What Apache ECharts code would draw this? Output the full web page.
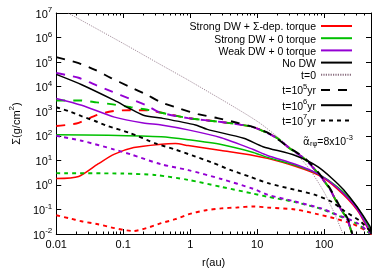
<!DOCTYPE html>
<html><head><meta charset="utf-8">
<script src="https://cdn.jsdelivr.net/npm/echarts@6/dist/echarts.min.js"></script>
<style>html,body{margin:0;padding:0;background:#fff}#c{width:390px;height:273px}</style>
</head><body><div id="c"></div>
<script>
// ---- tick labels ----
const xTicks = [0.01, 0.1, 1, 10, 100];
const xMinorTicks = [0.02,0.03,0.04,0.05,0.06,0.07,0.08,0.09,0.2,0.3,0.4,0.5,0.6,0.7,0.8,0.9,2,3,4,5,6,7,8,9,20,30,40,50,60,70,80,90,200,300,400];
const yTicks = [1e-2, 1e-1, 1, 10, 100, 1e3, 1e4, 1e5, 1e6, 1e7];

// ---- legend entries ----
const modelNames = ['Strong DW + Σ-dep. torque', 'Strong DW + 0 torque', 'Weak DW + 0 torque', 'No DW'];
const timeNames = ['t=0', 't=10^5yr', 't=10^6yr', 't=10^7yr'];

// ---- t = 0 ----
const r_t0 = [0.015, 0.1, 0.37, 1, 10, 30, 50, 65, 100, 150, 190, 215];
const s_t0 = [1.0e7, 5.75e5, 7.6e4, 1.66e4, 389, 35.5, 8.3, 3.3, 0.5, 0.05, 0.01, 0.004];

// ---- t = 1e5 yr (dashed) ----
const r_noDW_5 = [0.01,0.0216,0.038,0.065,0.123,0.222,0.344,0.67,1.31,2.55,4.97,9,15.4,30,49.6,76.6,118,165,223,263];
const s_noDW_5 = [1.6e5,9.1e4,4.8e4,2.3e4,1.0e4,4800,2500,1320,760,525,340,220,120,33,13.2,4.0,0.83,0.16,0.044,0.01];
const r_weak_5 = [0.01,0.0216,0.038,0.068,0.123,0.222,0.344,0.93,2.9,8,12,20,30,50,77,118,165,223,263];
const s_weak_5 = [3.6e4,2.3e4,1.2e4,6300,3300,1740,910,525,363,240,160,79,32,12,3.5,0.76,0.14,0.038,0.009];
const r_strong_5 = [0.01,0.023,0.04,0.07,0.13,0.23,0.344,0.93,2.9,8,12,20,30,50,77,118,165,223,263];
const s_strong_5 = [2750,2750,2300,1900,1450,1150,910,525,363,240,160,79,32,12,3.5,0.76,0.14,0.038,0.009];
const r_sig_5 = [0.01,0.02,0.04,0.068,0.123,0.22,0.344,0.93,2.9,8,12,20,30,50,77,118,165,223,263];
const s_sig_5 = [250,316,690,1000,1100,1100,910,525,363,240,160,79,32,12,3.5,0.76,0.14,0.038,0.009];

// ---- t = 1e6 yr (solid) ----
const r_noDW_6 = [0.01,0.024,0.074,0.123,0.2,0.37,1.2,1.8,6.3,12.2,37,82,195,480,500];
const s_noDW_6 = [3.16e4,1.2e4,2750,1320,690,525,275,182,79,36,15.8,5.25,0.63,0.021,0.01];
const r_weak_6 = [0.01,0.024,0.074,0.2,0.37,0.93,2.9,8.75,14.2,37,82,157,307,480,500];
const s_weak_6 = [3300,1740,575,330,275,174,83,27.5,15.8,6.9,2.75,0.76,0.11,0.013,0.01];
const r_strong_6 = [0.01,0.06,0.37,0.93,2.9,8.75,14.2,37,82,157,307,480,500];
const s_strong_6 = [110,105,91,69,44,21,13.2,6.3,2.75,0.83,0.13,0.016,0.01];
const r_sig_6 = [0.01,0.0216,0.042,0.074,0.144,0.37,0.6,0.93,2.9,8.75,14.2,37,82,157,307,480,500];
const s_sig_6 = [1.8,2.2,7.1,17.8,33,45,48,40,25,15.8,12,5.75,2.5,0.69,0.1,0.012,0.009];

// ---- t = 1e7 yr (dotted) ----
const r_noDW_7 = [0.01,0.0154,0.0238,0.038,0.0587,0.123,0.31,0.6,1.07,2.08,4.05,7.95,14.2,36.7,72,127,195,346,500];
const s_noDW_7 = [1450,1000,630,400,250,132,48,27.5,15.8,8.3,4.0,2.1,1.2,0.63,0.4,0.21,0.091,0.033,0.012];
const r_weak_7 = [0.01,0.0238,0.074,0.13,0.367,0.935,2.91,8.75,14.2,36.7,90.6,140,311,479];
const s_weak_7 = [100,63,27.5,17.4,6.9,4.0,1.74,0.69,0.4,0.21,0.11,0.069,0.028,0.011];
const r_strong_7 = [0.01,0.1,0.31,0.935,2.91,8.75,14.2,36.7,90.6,140,311,479];
const s_strong_7 = [3.0,2.9,2.5,1.6,0.83,0.44,0.33,0.2,0.105,0.066,0.026,0.0105];
const r_sig_7 = [0.01,0.0154,0.0238,0.042,0.074,0.14,0.223,0.367,0.6,0.935,1.65,2.91,4.97,8.75,14.2,36.7,82,140,272,434];
const s_sig_7 = [0.058,0.044,0.033,0.025,0.0174,0.0132,0.0174,0.0275,0.04,0.063,0.091,0.11,0.12,0.132,0.12,0.1,0.063,0.044,0.025,0.0132];

const RED = '#ff0000', GREEN = '#00c000', PURPLE = '#9400d3', BLACK = '#000000', T0 = '#8a6f80';
const DASH = [9, 8], DOT = [4, 4];

function pairs(r, s) { return r.map((v, i) => [v, s[i]]); }
function line(name, r, s, color, type, width, z) {
  return {
    name, type: 'line', data: pairs(r, s), showSymbol: false, symbol: 'none',
    smooth: 0.25, clip: true, z: z || 2, silent: true,
    lineStyle: { color, width: width || 1.6, type: type || 'solid' },
    itemStyle: { color }
  };
}

const series = [
  line('t=0', r_t0, s_t0, T0, [1.2, 1.2], 0.8, 1),
  line('sig5', r_sig_5, s_sig_5, RED, DASH, 1.9),
  line('sig7', r_sig_7, s_sig_7, RED, DOT, 1.9),
  line(modelNames[0], r_sig_6, s_sig_6, RED, 'solid', 1.5),
  line('strong5', r_strong_5, s_strong_5, GREEN, DASH, 1.9),
  line('strong7', r_strong_7, s_strong_7, GREEN, DOT, 1.9),
  line(modelNames[1], r_strong_6, s_strong_6, GREEN, 'solid', 1.5),
  line('weak5', r_weak_5, s_weak_5, PURPLE, DASH, 1.9),
  line('weak7', r_weak_7, s_weak_7, PURPLE, DOT, 1.9),
  line(modelNames[2], r_weak_6, s_weak_6, PURPLE, 'solid', 1.5),
  line('noDW5', r_noDW_5, s_noDW_5, BLACK, DASH, 1.9),
  line('noDW7', r_noDW_7, s_noDW_7, BLACK, DOT, 1.9),
  line(modelNames[3], r_noDW_6, s_noDW_6, BLACK, 'solid', 1.5),
  line(timeNames[1], [], [], BLACK, DASH, 1.9),
  line(timeNames[2], [], [], BLACK, 'solid', 1.5),
  line(timeNames[3], [], [], BLACK, DOT, 1.9)
];

const FONT = 'Liberation Sans, Arial, sans-serif';
const supRich = {
  b: { fontSize: 11, fontFamily: FONT, color: '#000', padding: [3, 0, 0, 0] },
  s: { fontSize: 8, fontFamily: FONT, color: '#000', verticalAlign: 'top', lineHeight: 8 }
};
const legRich = {
  b: { fontSize: 10.5, fontFamily: FONT, color: '#000', padding: [3, 0, 0, 0] },
  s: { fontSize: 7.5, fontFamily: FONT, color: '#000', verticalAlign: 'top', lineHeight: 8 }
};

function baseX(pos, showLabel) {
  return {
    type: 'log', logBase: 10, min: 0.01, max: 500, position: pos, gridIndex: 0,
    axisLine: { show: true, onZero: false, lineStyle: { color: '#000', width: 1 } },
    axisTick: { show: true, inside: true, length: 5, customValues: xTicks, lineStyle: { color: '#000' } },
    axisLabel: { show: showLabel, customValues: xTicks, fontSize: 11, fontFamily: FONT, color: '#000', margin: 5,
      formatter: v => String(+v.toPrecision(3)) },
    splitLine: { show: false }, minorTick: { show: false }
  };
}
function minorX(pos) {
  return {
    type: 'log', logBase: 10, min: 0.01, max: 500, position: pos, gridIndex: 0,
    axisLine: { show: false },
    axisTick: { show: true, inside: true, length: 2.5, customValues: xMinorTicks, lineStyle: { color: '#000' } },
    axisLabel: { show: false }, splitLine: { show: false }
  };
}
function baseY(pos, showLabel) {
  return {
    type: 'log', logBase: 10, min: 0.01, max: 1e7, position: pos, gridIndex: 0,
    axisLine: { show: true, onZero: false, lineStyle: { color: '#000', width: 1 } },
    axisTick: { show: true, inside: true, length: 5, customValues: yTicks, lineStyle: { color: '#000' } },
    axisLabel: { show: showLabel, customValues: yTicks, margin: 4,
      formatter: v => '{b|10}{s|' + Math.round(Math.log10(v)) + '}', rich: supRich },
    splitLine: { show: false }
  };
}

const xAxes = [baseX('bottom', true), baseX('top', false), minorX('bottom'), minorX('top')];
xAxes[0].name = 'r(au)';
xAxes[0].nameLocation = 'middle';
xAxes[0].nameGap = 23;
xAxes[0].nameTextStyle = { fontSize: 11, fontFamily: FONT, color: '#000' };
const yAxes = [baseY('left', true), baseY('right', false)];
yAxes[0].name = '{b|Σ(g/cm}{s|2}{b|)}';
yAxes[0].nameLocation = 'middle';
yAxes[0].nameGap = 33;
yAxes[0].nameTextStyle = { rich: supRich };

const chart = echarts.init(document.getElementById('c'), null, { renderer: 'canvas' });
chart.setOption({
  animation: false,
  backgroundColor: '#fff',
  grid: { left: 47, right: 19, top: 13, bottom: 35, containLabel: false },
  xAxis: xAxes,
  yAxis: yAxes,
  legend: {
    data: modelNames.concat(timeNames),
    orient: 'vertical', align: 'right', right: 32, top: 17,
    itemWidth: 31, itemHeight: 8, itemGap: 1.2,
    selectedMode: false,
    itemStyle: { opacity: 0, borderWidth: 0 },
    textStyle: { rich: legRich },
    formatter: n => {
      const m = n.match(/^(t=10)\^(\d)(yr)$/);
      if (m) return '{b|' + m[1] + '}{s|' + m[2] + '}{b|' + m[3] + '}';
      return '{b|' + n + '}';
    }
  },
  graphic: [{
    type: 'text', left: 303, top: 134, silent: true,
    style: {
      text: '{g|α̃}{u|rφ}{a|=8x10}{p|-3}',
      rich: {
        g: { fontSize: 10.5, fontFamily: 'DejaVu Sans', fill: '#000', padding: [3, 0, 0, 0] },
        a: { fontSize: 10.5, fontFamily: FONT, fill: '#000', padding: [3, 0, 0, 0] },
        u: { fontSize: 7.5, fontFamily: FONT, fill: '#000', verticalAlign: 'bottom', lineHeight: 8 },
        p: { fontSize: 7.5, fontFamily: FONT, fill: '#000', verticalAlign: 'top', lineHeight: 8 }
      }
    }
  }],
  series
});
</script></body></html>
